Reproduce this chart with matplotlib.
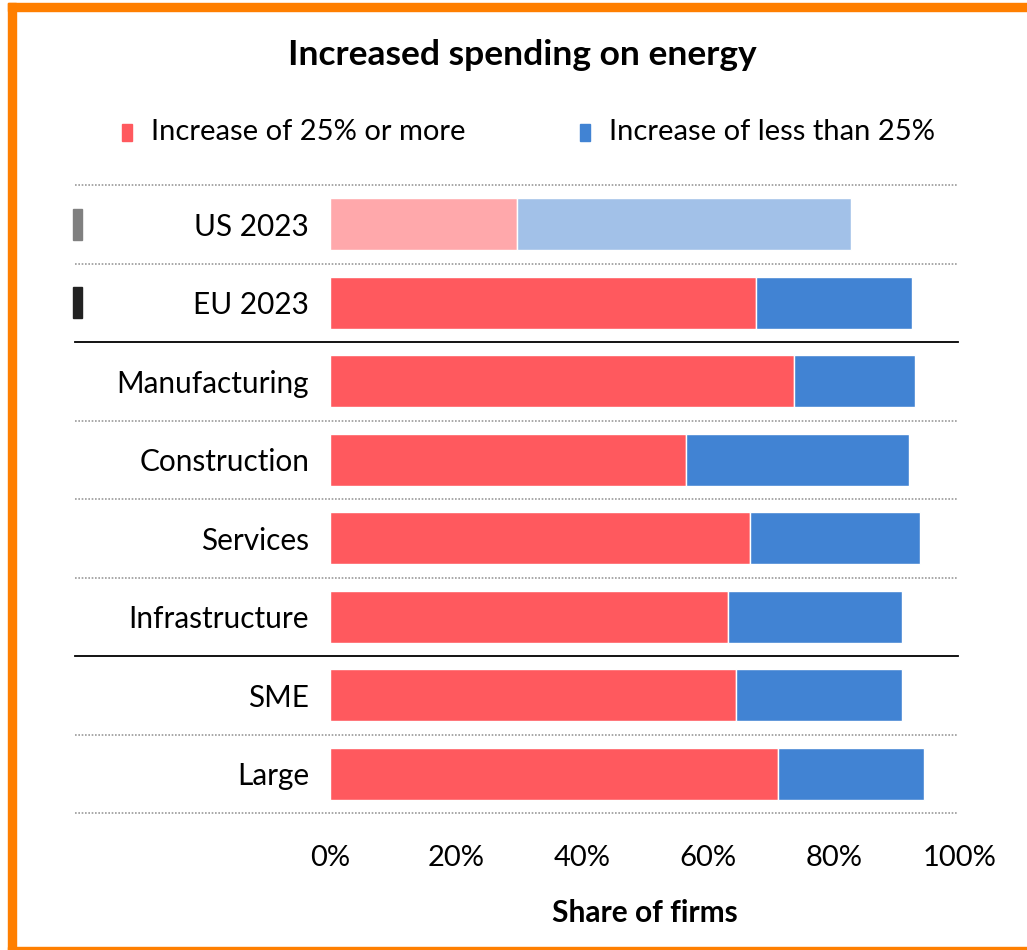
import matplotlib.pyplot as plt
import matplotlib.transforms as mtransforms
from matplotlib.patches import Rectangle
import numpy as np

plt.rcParams['font.family'] = ['Lato', 'DejaVu Sans']

categories = ['US 2023', 'EU 2023', 'Manufacturing', 'Construction',
              'Services', 'Infrastructure', 'SME', 'Large']
high = np.array([29.7, 67.6, 73.7, 56.5, 66.7, 63.2, 64.4, 71.1])   # 25% or more
low = np.array([53.0, 24.8, 19.2, 35.4, 27.0, 27.6, 26.4, 23.2])    # less than 25%

red, blue = '#FF595E', '#4183D3'
red_light, blue_light = '#FFA8AB', '#A2C1E8'

W, H = 1027, 950
fig = plt.figure(figsize=(W / 100, H / 100), dpi=100)
ax = fig.add_axes([330 / W, 1 - 813 / H, 630 / W, 628 / H])

y = np.arange(len(categories))
c_high = [red_light] + [red] * (len(y) - 1)
c_low = [blue_light] + [blue] * (len(y) - 1)
ax.barh(y, high / 100, height=0.66, color=c_high, edgecolor='white', linewidth=1)
ax.barh(y, low / 100, left=high / 100, height=0.66, color=c_low, edgecolor='white', linewidth=1)

fs = 21
ax.set_xlim(0, 1)
ax.set_ylim(len(y) - 0.5, -0.5)
ax.set_yticks(y)
ax.set_yticklabels(categories, fontsize=fs + 0.4)
ax.set_xticks(np.linspace(0, 1, 6))
ax.set_xticklabels([f'{int(v)}%' for v in np.linspace(0, 100, 6)], fontsize=fs)
ax.tick_params(axis='y', length=0, pad=15)
ax.tick_params(axis='x', length=0, pad=23)
for s in ax.spines.values():
    s.set_visible(False)

# row separators
x0 = (75 - 330) / 630
for b in np.arange(-0.5, len(y), 1.0):
    if b in (1.5, 5.5):
        ax.axhline(b, xmin=x0, xmax=0.997, color='black', lw=1.3, clip_on=False)
    else:
        ax.axhline(b, xmin=x0, xmax=0.997, color='#9A9A9A', lw=1.2, ls=(0, (1, 1)), clip_on=False)

# small markers in front of US / EU rows
trans = mtransforms.blended_transform_factory(ax.transAxes, ax.transData)
for yi, col in [(0, '#808080'), (1, '#222222')]:
    ax.add_patch(Rectangle((-0.408, yi - 0.2), 0.0143, 0.4, transform=trans,
                           color=col, clip_on=False))

ax.set_xlabel('Share of firms', fontsize=fs + 0.5, fontweight='bold', labelpad=20)
fig.text(522 / W, 1 - 55 / H, 'Increased spending on energy', ha='center', va='center',
         fontsize=25.5, fontweight='bold')

# legend
for xs, col, lab in [(122, red, 'Increase of 25% or more'),
                     (580, blue, 'Increase of less than 25%')]:
    fig.patches.append(Rectangle((xs / W, 1 - 141 / H), 10 / W, 17 / H,
                                 transform=fig.transFigure, color=col, figure=fig))
    fig.text((xs + 29) / W, 1 - 132 / H, lab, ha='left', va='center', fontsize=fs)

# orange frame
orange = '#FF7F00'
for r in [(8, 3, W - 8, 8), (8, 3, 8, H - 3), (8, H - 3, W - 8, 3)]:
    fig.patches.append(Rectangle((r[0] / W, 1 - (r[1] + r[3]) / H), r[2] / W, r[3] / H,
                                 transform=fig.transFigure, color=orange, figure=fig))

fig.savefig('out.png', dpi=100)
